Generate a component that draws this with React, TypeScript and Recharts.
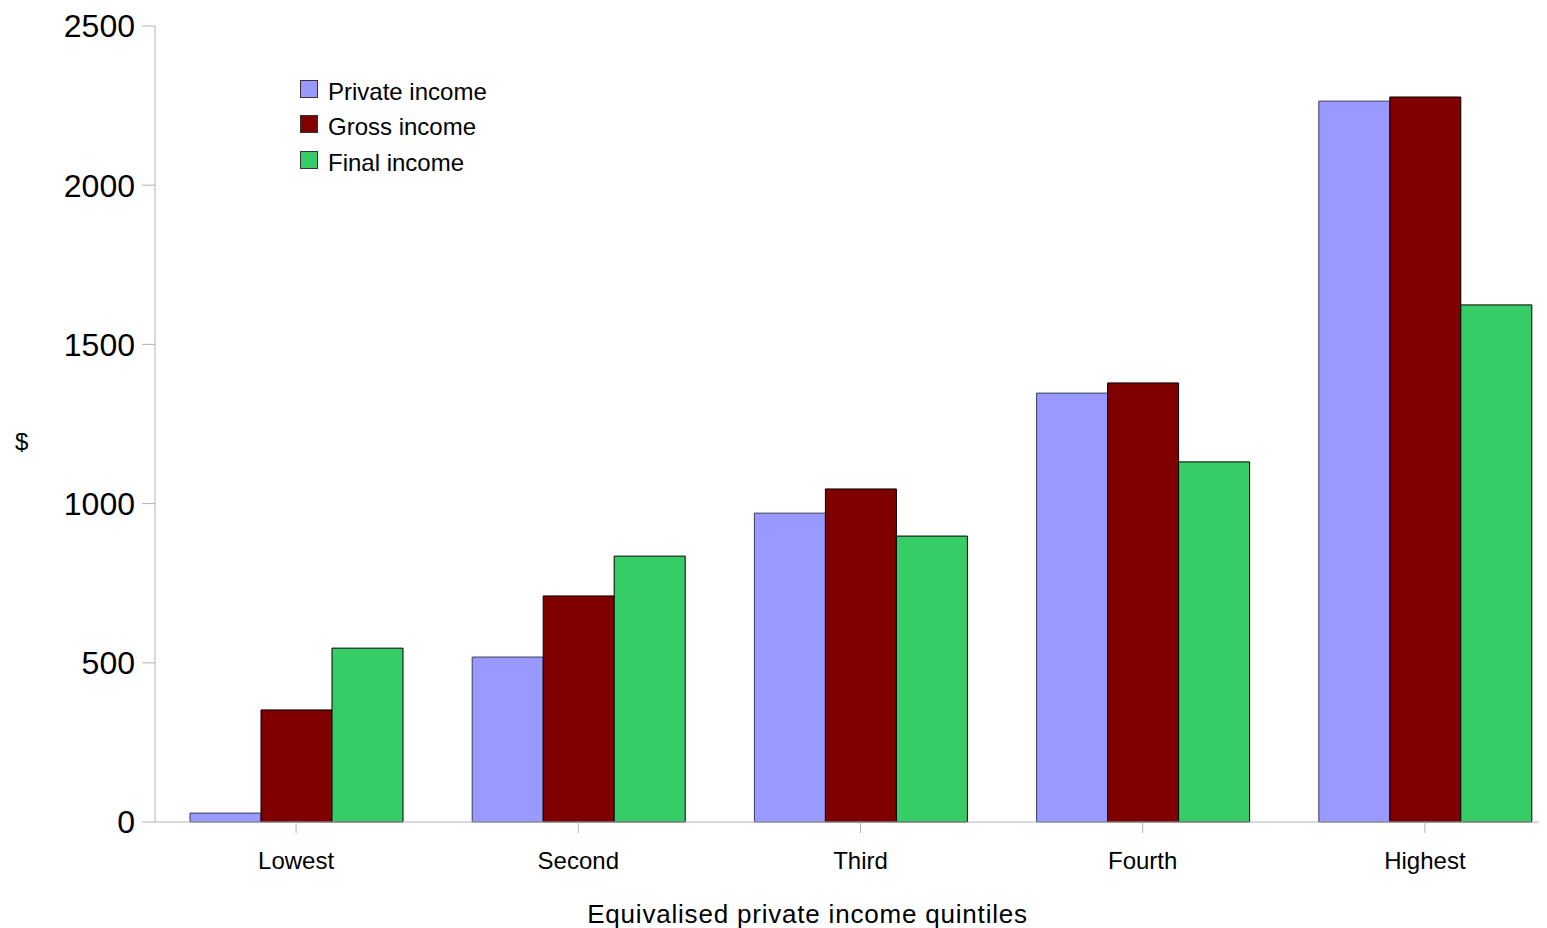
import React from 'react';
import { BarChart, Bar, XAxis, YAxis, Legend } from 'recharts';

const categories = ['Lowest', 'Second', 'Third', 'Fourth', 'Highest'];
const privateIncome = [28, 518, 970, 1347, 2264];
const grossIncome = [352, 710, 1046, 1379, 2277];
const finalIncome = [546, 835, 898, 1131, 1624];
const yTicks = [0, 500, 1000, 1500, 2000, 2500];

const series = [
  { key: 'private', name: 'Private income', color: '#9999ff', stroke: '#3a3a5a' },
  { key: 'gross', name: 'Gross income', color: '#800000', stroke: '#000000' },
  { key: 'final', name: 'Final income', color: '#36cc66', stroke: '#000000' },
];

const data = categories.map((c, i) => ({
  name: c,
  private: privateIncome[i],
  gross: grossIncome[i],
  final: finalIncome[i],
}));

const FONT = '"Liberation Sans", Arial, sans-serif';

const LegendContent = () => (
  <div style={{ fontFamily: FONT, textAlign: 'left' }}>
    {series.map((s) => (
      <div key={s.key} style={{ display: 'flex', alignItems: 'center', height: 35.5 }}>
        <div
          style={{
            width: 16,
            height: 16,
            background: s.color,
            border: '1px solid #333',
            marginRight: 10,
            marginTop: -6,
          }}
        />
        <span style={{ fontSize: 24, color: '#000' }}>{s.name}</span>
      </div>
    ))}
  </div>
);

export default function App() {
  return (
    <div style={{ width: 1539, height: 920, overflow: 'hidden', position: 'relative' }}>
      <BarChart
        width={1600}
        height={920}
        data={data}
        margin={{ top: 18, right: 42, bottom: 0, left: 0 }}
        barCategoryGap={35}
        barGap={0}
      >
        <XAxis
          dataKey="name"
          height={106}
          stroke="#b3b3b3"
          tickSize={11}
          tickMargin={19}
          tick={{ fill: '#000', fontSize: 24, fontFamily: FONT }}
          label={{
            value: 'Equivalised private income quintiles',
            position: 'insideBottom',
            offset: 5,
            dx: -53,
            style: { fill: '#000', fontSize: 26, letterSpacing: 0.8, fontFamily: FONT },
          }}
        />
        <YAxis
          width={147}
          domain={[0, 2500]}
          ticks={yTicks}
          interval={0}
          stroke="#b3b3b3"
          tickSize={13}
          tickMargin={7}
          tick={{ fill: '#000', fontSize: 32, fontFamily: FONT }}
          label={{
            value: '$',
            position: 'insideLeft',
            angle: 0,
            offset: 7,
            dy: 17,
            style: { fill: '#000', fontSize: 24, fontFamily: FONT },
          }}
        />
        <Legend
          layout="horizontal"
          verticalAlign="middle"
          align="center"
          content={<LegendContent />}
          wrapperStyle={{ left: 292, top: 66, width: 260 }}
        />
        {series.map((s) => (
          <Bar
            key={s.key}
            dataKey={s.key}
            name={s.name}
            fill={s.color}
            stroke={s.stroke}
            strokeWidth={1}
            isAnimationActive={false}
          />
        ))}
      </BarChart>
    </div>
  );
}
